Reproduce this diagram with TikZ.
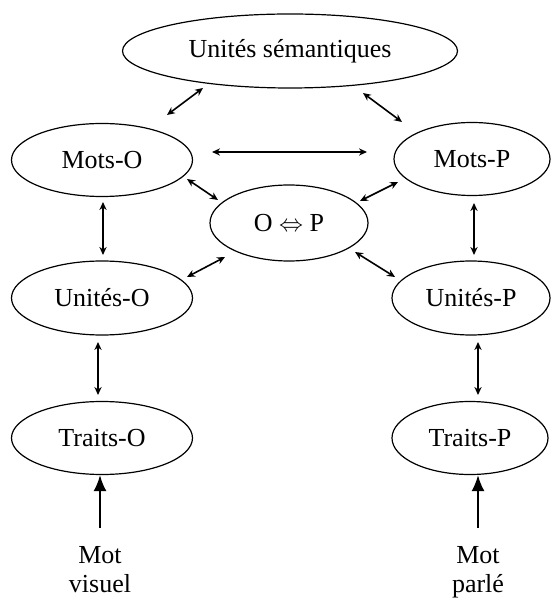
\documentclass[tikz,border=0pt]{standalone}
\usepackage{fontspec}
\setmainfont{Liberation Serif}
\usetikzlibrary{shapes.geometric,arrows.meta}
\begin{document}
\begin{tikzpicture}[x=0.5pt,y=-0.5pt,
  oval/.style={draw, ellipse, line width=0.6pt, inner sep=0pt, font=\fontsize{13}{15}\selectfont},
  link/.style={{Stealth[length=4pt,width=3.6pt]}-{Stealth[length=4pt,width=3.6pt]}, line width=0.8pt},
  feed/.style={-{Latex[length=8pt,width=6.5pt]}, line width=1pt},
  lbl/.style={font=\fontsize{13}{14.5}\selectfont, align=center, inner sep=0pt, anchor=north}]
\useasboundingbox (0,0) rectangle (560,603);
% nodes
\node[oval, minimum width=167.5pt, minimum height=37pt] (sem) at (290,51) {Unités sémantiques};
\node[oval, minimum width=90.5pt, minimum height=36.5pt] (motsO) at (102,160) {Mots-O};
\node[oval, minimum width=78pt, minimum height=36.5pt] (motsP) at (472,159) {Mots-P};
\node[oval, minimum width=79pt, minimum height=38pt] (op) at (289,223) {O $\Leftrightarrow$ P};
\node[oval, minimum width=90.5pt, minimum height=37pt] (uniO) at (102,298) {Unités-O};
\node[oval, minimum width=79pt, minimum height=37pt] (uniP) at (471,298) {Unités-P};
\node[oval, minimum width=90.5pt, minimum height=36.5pt] (traO) at (102,438) {Traits-O};
\node[oval, minimum width=78pt, minimum height=36.5pt] (traP) at (470,438) {Traits-P};
\node[lbl] (motv) at (100,546) {Mot\\visuel};
\node[lbl] (motp) at (478,546) {Mot\\parlé};
% arrow end points
\coordinate (a1) at (203,88);  \coordinate (b1) at (167,115);
\coordinate (a2) at (363,93);  \coordinate (b2) at (402,122);
\coordinate (a3) at (212,152); \coordinate (b3) at (367,152);
\coordinate (a4) at (187,179); \coordinate (b4) at (218,200);
\coordinate (a5) at (398,182); \coordinate (b5) at (360,201);
\coordinate (a6) at (187,277); \coordinate (b6) at (225,257);
\coordinate (a7) at (355,252); \coordinate (b7) at (395,277);
\coordinate (a8) at (103,202); \coordinate (b8) at (103,255);
\coordinate (a9) at (98,342);  \coordinate (b9) at (98,395);
\coordinate (a10) at (474,203); \coordinate (b10) at (474,255);
\coordinate (a11) at (478,342); \coordinate (b11) at (478,395);
\coordinate (inO) at (100,528); \coordinate (inP) at (478,528);
% connectors
\draw[link] (a1) -- (b1);
\draw[link] (a2) -- (b2);
\draw[link] (a3) -- (b3);
\draw[link] (a4) -- (b4);
\draw[link] (a5) -- (b5);
\draw[link] (a6) -- (b6);
\draw[link] (a7) -- (b7);
\draw[link] (a8) -- (b8);
\draw[link] (a9) -- (b9);
\draw[link] (a10) -- (b10);
\draw[link] (a11) -- (b11);
\draw[feed] (inO) -- (inO |- traO.south);
\draw[feed] (inP) -- (inP |- traP.south);
\end{tikzpicture}
\end{document}
